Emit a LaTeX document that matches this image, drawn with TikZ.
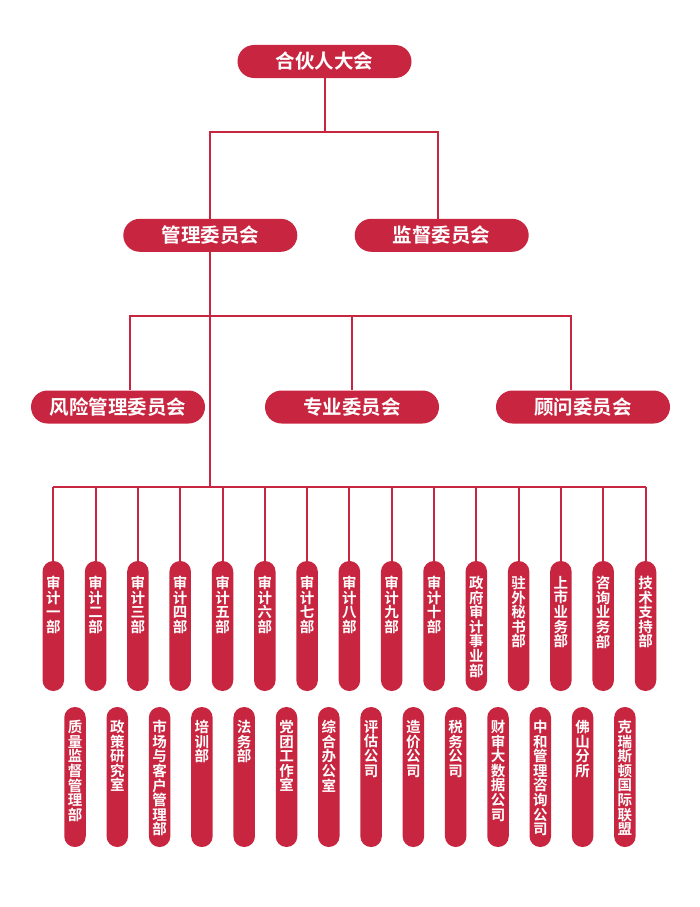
\documentclass[tikz,border=0pt]{standalone}
\usepackage{fontspec}
\setmainfont{Noto Sans CJK SC}[BoldFont={* Bold}]
\definecolor{org}{RGB}{200,38,64}
\begin{document}
\begin{tikzpicture}[x=1pt,y=-1pt,
  box/.style={fill=org, rounded corners=16.5pt, minimum width=174pt, minimum height=33pt,
    inner sep=0pt, text=white, font=\bfseries\fontsize{19.5}{19.5}\selectfont},
  pill/.style={fill=org, rounded corners=10.6pt, minimum width=21.5pt, inner sep=0pt},
  vlab/.style={anchor=north, inner sep=0pt, text=white, align=center,
    font=\bfseries\fontsize{14.5}{14.6}\selectfont},
  link/.style={draw=org, line width=2pt}]
\useasboundingbox (0,0) rectangle (700,907);

% top levels
\node[box] (top) at (324.5,61.5) {合伙人大会};
\node[box] (gl) at (210.3,235.3) {管理委员会};
\node[box] (jd) at (441.7,235.3) {监督委员会};
\node[box] (fx) at (118,407) {风险管理委员会};
\node[box] (zy) at (352,407) {专业委员会};
\node[box] (gw) at (583,407) {顾问委员会};

\coordinate (h1r) at (438,132.3);
\coordinate (h2l) at (130,316);
\coordinate (h2r) at (571,316);
\coordinate (h4) at (210.3,486.7);

\draw[link] (top.south) -- (top.south |- h1r);
\draw[link] (gl.north) |- (h1r) -- (h1r |- jd.north);
\draw[link] (gl.south) -- (h4);
\draw[link] (h2l |- fx.north) -- (h2l) -- (h2r) -- (h2r |- gw.north);
\draw[link] (zy.north) -- (zy.north |- h2l);

% level 4
\foreach \t [count=\i from 0] in {
  {审\\计\\一\\部},{审\\计\\二\\部},{审\\计\\三\\部},{审\\计\\四\\部},
  {审\\计\\五\\部},{审\\计\\六\\部},{审\\计\\七\\部},{审\\计\\八\\部},
  {审\\计\\九\\部},{审\\计\\十\\部},{政\\府\\审\\计\\事\\业\\部},
  {驻\\外\\秘\\书\\部},{上\\市\\业\\务\\部},{咨\\询\\业\\务\\部},
  {技\\术\\支\\持\\部}}{
  \pgfmathsetmacro\xx{53.3+42.3*\i}
  \node[pill, minimum height=130pt] (d\i) at (\xx,626) {};
  \node[vlab] (td\i) at (\xx,576) {\t};
  \draw[link] (d\i.north) -- (d\i.north |- h4);
}
\draw[link] (d0.north |- h4) -- (d14.north |- h4);

% level 5
\foreach \t [count=\i from 0] in {
  {质\\量\\监\\督\\管\\理\\部},{政\\策\\研\\究\\室},{市\\场\\与\\客\\户\\管\\理\\部},
  {培\\训\\部},{法\\务\\部},{党\\团\\工\\作\\室},{综\\合\\办\\公\\室},
  {评\\估\\公\\司},{造\\价\\公\\司},{税\\务\\公\\司},{财\\审\\大\\数\\据\\公\\司},
  {中\\和\\管\\理\\咨\\询\\公\\司},{佛\\山\\分\\所},{克\\瑞\\斯\\顿\\国\\际\\联\\盟}}{
  \pgfmathsetmacro\xx{75+42.3*\i}
  \node[pill, minimum height=140pt] (e\i) at (\xx,777) {};
  \node[vlab] (te\i) at (\xx,720) {\t};
}
\end{tikzpicture}
\end{document}
